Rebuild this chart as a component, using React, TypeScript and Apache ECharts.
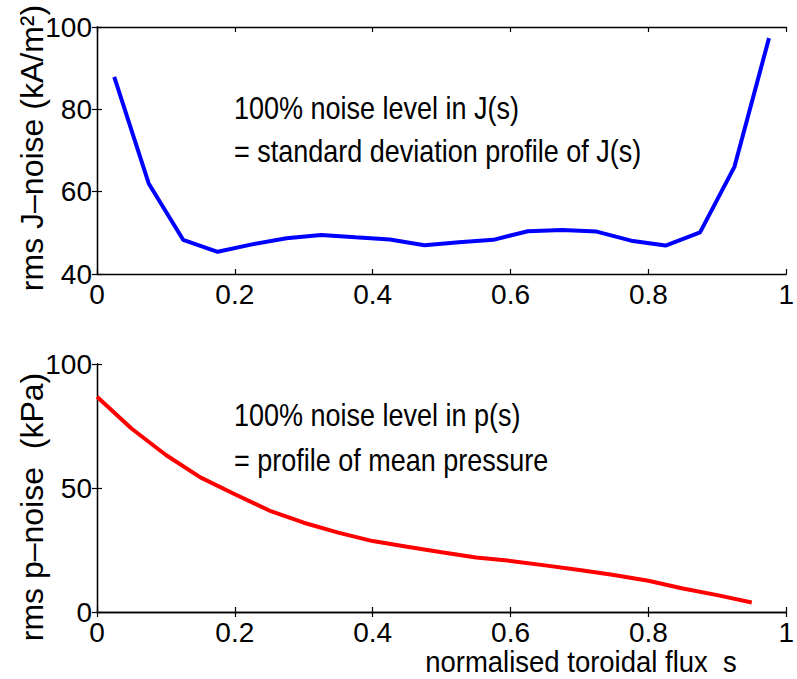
import React, { useEffect, useRef } from "react";
import * as echarts from "echarts";

const xJ = [0.025, 0.075, 0.125, 0.175, 0.225, 0.275, 0.325, 0.375, 0.425, 0.475, 0.525, 0.575, 0.625, 0.675, 0.725, 0.775, 0.825, 0.875, 0.925, 0.975];
const jNoise = [87.9, 62.0, 48.3, 45.4, 47.2, 48.7, 49.5, 48.9, 48.4, 47.0, 47.7, 48.3, 50.4, 50.7, 50.3, 48.1, 46.9, 50.1, 66.1, 97.3];
const xP = [0, 0.05, 0.1, 0.15, 0.2, 0.25, 0.3, 0.35, 0.4, 0.45, 0.5, 0.55, 0.6, 0.65, 0.7, 0.75, 0.8, 0.85, 0.9, 0.95];
const pNoise = [86.8, 74.0, 63.3, 54.3, 47.5, 40.9, 36.0, 32.0, 28.6, 26.3, 24.1, 22.0, 20.6, 18.8, 16.9, 14.9, 12.6, 9.5, 6.8, 3.8];

const topYTitle = "rms J\u2013noise (kA/m\u00B2)";
const botYTitle = "rms p\u2013noise  (kPa)";
const xTitle = "normalised toroidal flux  s";
const topNote = ["100% noise level in J(s)", "= standard deviation profile of J(s)"];
const botNote = ["100% noise level in p(s)", "= profile of mean pressure"];

const FONT = "'Liberation Sans', Arial, Helvetica, sans-serif";
const TFS = 28;

export default function App() {
  const ref = useRef<HTMLDivElement>(null);
  useEffect(() => {
    document.body.style.margin = "0";
    const chart = echarts.init(ref.current!, null, { renderer: "svg" });
    const axisLine = { show: true, lineStyle: { color: "#000", width: 1.3 } };
    const tick = { show: true, inside: true, length: 5, lineStyle: { color: "#000", width: 1.2 } };
    const lbl = { color: "#000", fontSize: TFS, fontFamily: FONT };
    const xFmt = (v: number) => String(+v.toFixed(1));
    const mkX = (gi: number, pos: "bottom" | "top", show: boolean) => ({
      type: "value", gridIndex: gi, position: pos, min: 0, max: 1, interval: 0.2,
      axisLine, axisTick: tick, splitLine: { show: false },
      axisLabel: show ? { ...lbl, margin: 6, formatter: xFmt } : { show: false },
    });
    const mkY = (gi: number, pos: "left" | "right", show: boolean, min: number, max: number, interval: number) => ({
      type: "value", gridIndex: gi, position: pos, min, max, interval,
      axisLine, axisTick: tick, splitLine: { show: false },
      axisLabel: show ? { ...lbl, margin: 5 } : { show: false },
    });
    const txt = (text: string, x: number, y: number, align: string, size: number, sy: number, rot = 0) => ({
      type: "text", x, y, rotation: rot, scaleY: sy,
      style: { text, fill: "#000", font: `${size}px ${FONT}`, align, verticalAlign: "middle" },
    });
    chart.setOption({
      animation: false,
      backgroundColor: "#fff",
      grid: [
        { left: 97, top: 27, width: 691, height: 247 },
        { left: 97, top: 364, width: 691, height: 248 },
      ],
      xAxis: [mkX(0, "bottom", true), mkX(0, "top", false), mkX(1, "bottom", true), mkX(1, "top", false)],
      yAxis: [
        mkY(0, "left", true, 40, 100, 20), mkY(0, "right", false, 40, 100, 20),
        mkY(1, "left", true, 0, 100, 50), mkY(1, "right", false, 0, 100, 50),
      ],
      series: [
        {
          type: "line", xAxisIndex: 0, yAxisIndex: 0, showSymbol: false,
          data: xJ.map((x, i) => [x, jNoise[i]]),
          lineStyle: { color: "#0000ff", width: 4 }, itemStyle: { color: "#0000ff" },
        },
        {
          type: "line", xAxisIndex: 2, yAxisIndex: 2, showSymbol: false,
          data: xP.map((x, i) => [x, pNoise[i]]),
          lineStyle: { color: "#ff0000", width: 4 }, itemStyle: { color: "#ff0000" },
        },
      ],
      graphic: [
        txt(topYTitle, 32, 148, "center", 32, 1, Math.PI / 2),
        txt(botYTitle, 32, 507, "center", 32, 1, Math.PI / 2),
        txt(xTitle, 581, 662, "center", 27.5, 1.08),
        txt(topNote[0], 234, 108, "left", 27, 1.13),
        txt(topNote[1], 234, 151, "left", 27, 1.13),
        txt(botNote[0], 234, 415, "left", 27, 1.13),
        txt(botNote[1], 234, 460, "left", 27, 1.13),
      ],
    });
    return () => chart.dispose();
  }, []);
  return <div ref={ref} style={{ width: 797, height: 679 }} />;
}
